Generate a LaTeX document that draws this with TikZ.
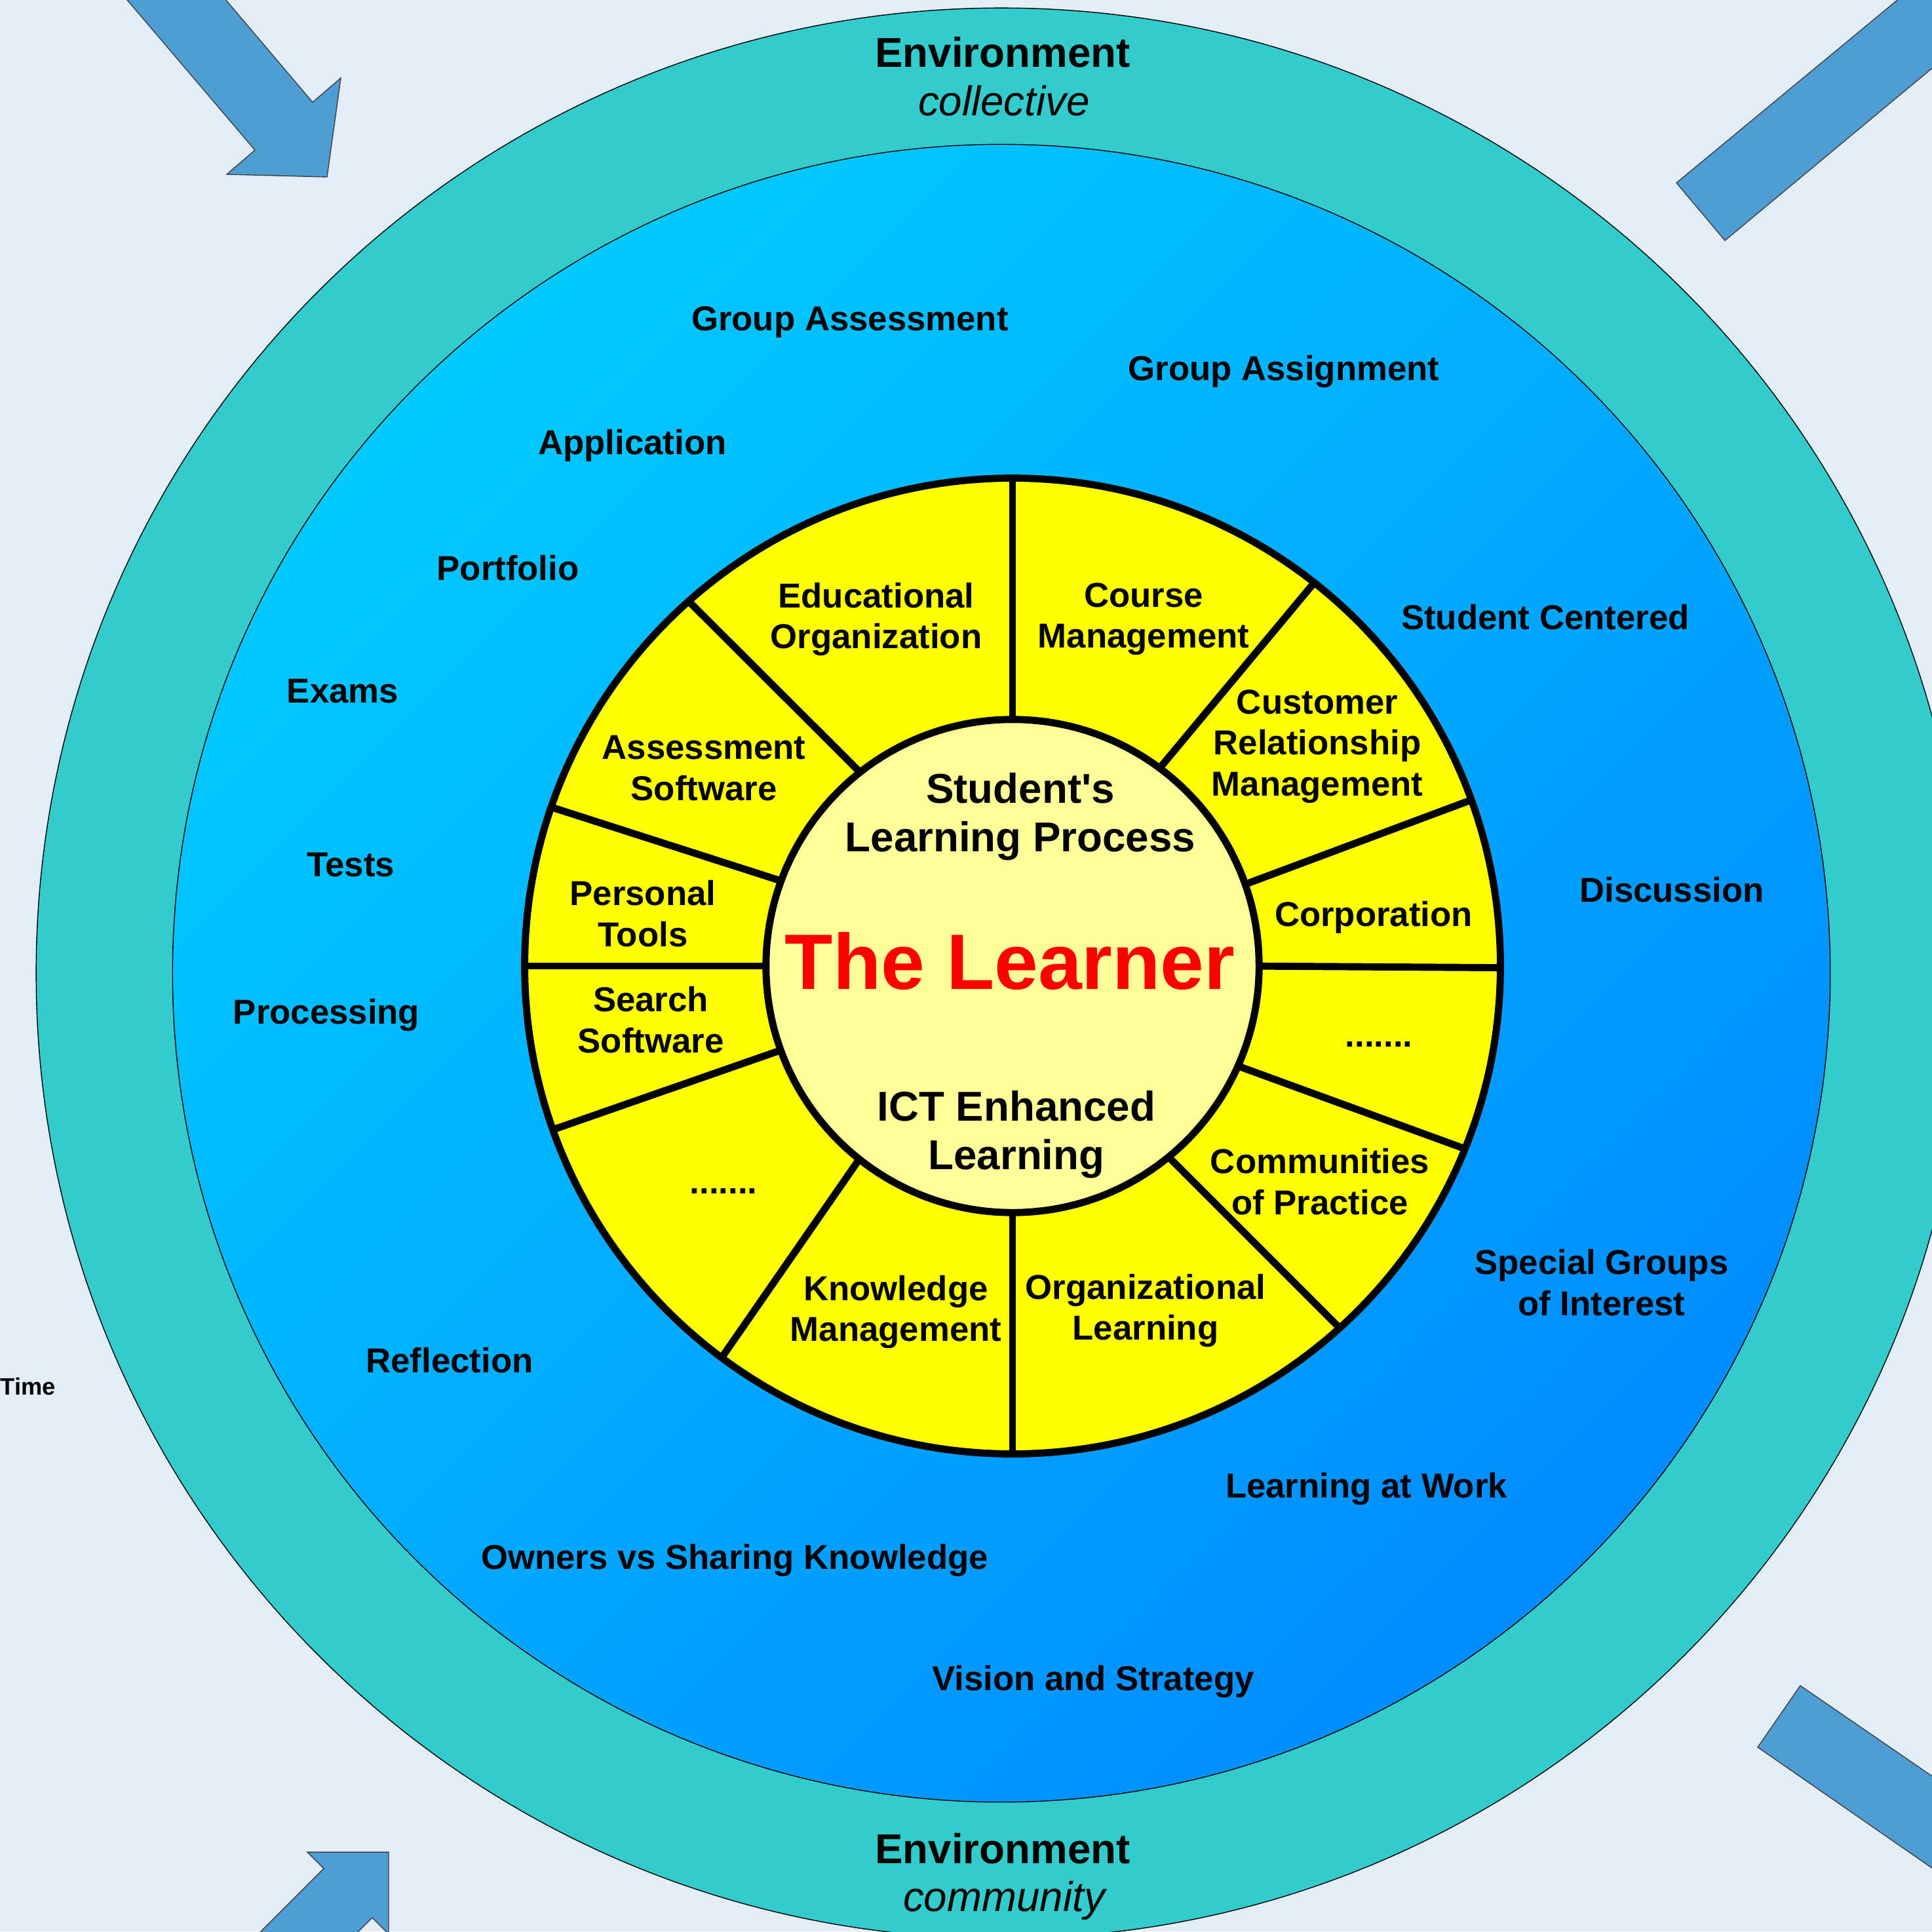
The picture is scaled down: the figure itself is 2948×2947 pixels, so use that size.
\documentclass[tikz,border=0pt]{standalone}
\usepackage{fontspec}
\setmainfont{Liberation Sans}
\usetikzlibrary{calc}
\definecolor{bg}{RGB}{227,237,248}
\definecolor{arrowblue}{RGB}{79,157,213}
\definecolor{tealring}{RGB}{51,204,204}
\definecolor{bluetop}{RGB}{0,202,255}
\definecolor{bluebot}{RGB}{0,140,255}
\definecolor{ringyellow}{RGB}{255,255,0}
\definecolor{paleyellow}{RGB}{255,255,153}
\definecolor{learnerred}{RGB}{255,0,0}
\begin{document}
\begin{tikzpicture}[x=0.01cm,y=-0.01cm,
  lab/.style={font=\fontsize{15}{17.7}\selectfont\bfseries, align=center, inner sep=0pt},
  biglab/.style={font=\fontsize{18.1}{21.2}\selectfont\bfseries, align=center, inner sep=0pt},
  envbold/.style={font=\fontsize{18.1}{21.2}\selectfont\bfseries, inner sep=0pt, anchor=base},
  envital/.style={font=\fontsize{18.1}{21.2}\selectfont\itshape, inner sep=0pt, anchor=base},
  learnerlab/.style={font=\fontsize{34.1}{40}\selectfont\bfseries, text=learnerred, inner sep=0pt},
  timelab/.style={font=\fontsize{10.3}{12}\selectfont\bfseries, inner sep=0pt, anchor=base west},
  bigarrow/.style={fill=arrowblue, draw=black!75, line width=0.4pt},
  thinrim/.style={draw=black, line width=0.4pt},
  spoke/.style={draw=black, line width=3.1pt, line cap=butt},
  thickrim/.style={draw=black, line width=3.1pt}]
\fill[bg] (0,0) rectangle (2948,2947);
\useasboundingbox (0,0) rectangle (2948,2947);
\clip (0,0) rectangle (2948,2947);

% corner arrows
\filldraw[bigarrow] (109,-100) -- (389,229) -- (346,266) -- (499,270) -- (520,119) -- (477,156) -- (260,-100) -- cycle;
\filldraw[bigarrow] (3016,-100) -- (2558,279) -- (2632,367) -- (3060,11) -- (3060,-100) -- cycle;
\filldraw[bigarrow] (593,2826) -- (469,2826) -- (494,2851) -- (300,3045) -- (448,3046) -- (568,2926) -- (593,2951) -- cycle;
\filldraw[bigarrow] (2747,2572) -- (2682,2666) -- (3060,2928) -- (3060,2787) -- cycle;

% rings
\coordinate (O) at (1528,1485);
\coordinate (C) at (1545,1474);
\filldraw[fill=tealring, thinrim] (O) circle[radius=14.72cm];
\shadedraw[top color=bluetop, bottom color=bluebot, shading angle=45, thinrim] (O) circle[radius=12.64cm];
\fill[ringyellow] (C) circle[radius=7.44cm];
\foreach \ai/\ao in {90/90, 53.5/51.8, 19.3/19.9, 0/-0.2, -24.1/-22.0, -51.0/-47.9, -90/-90, 231.4/233.4, 200/199.6, 180/180, 159.7/161.0, 127.9/131.6}{
  \draw[spoke] ($(C)+(\ai:3.6cm)$) -- ($(C)+(\ao:7.44cm)$);
}
\draw[thickrim] (C) circle[radius=7.44cm];
\filldraw[fill=paleyellow, thickrim] (C) circle[radius=3.76cm];

% environment labels
\node[envbold] (envtop) at (1530,102) {Environment};
\node[envital] (envtopsub) at (1532,176) {collective};
\node[envbold] (envbot) at (1530,2843) {Environment};
\node[envital] (envbotsub) at (1532,2916) {community};
\node[timelab] (time) at (0,2128) {Time};

% outer labels
\node[lab] (gassess) at (1297,492) {Group Assessment};
\node[lab] (gassign) at (1959,567) {Group Assignment};
\node[lab] (appl) at (965,680) {Application};
\node[lab] (portf) at (775,867) {Portfolio};
\node[lab] (stcent) at (2358,942) {Student Centered};
\node[lab] (exams) at (523,1055) {Exams};
\node[lab] (tests) at (535,1320) {Tests};
\node[lab] (disc) at (2551,1358) {Discussion};
\node[lab] (proc) at (498,1549) {Processing};
\node[lab] (special) at (2444,1957) {Special Groups\\of Interest};
\node[lab] (refl) at (686,2076) {Reflection};
\node[lab] (law) at (2085,2272) {Learning at Work};
\node[lab] (owners) at (1121,2381) {Owners vs Sharing Knowledge};
\node[lab] (vision) at (1668,2566) {Vision and Strategy};

% sector labels
\node[lab] (edu) at (1337,945) {Educational\\Organization};
\node[lab] (course) at (1745,945) {Course\\Management};
\node[lab] (crm) at (2010,1139) {Customer\\Relationship\\Management};
\node[lab] (corp) at (2096,1400) {Corporation};
\node[lab] (dotsr) at (2104,1594) {.......};
\node[lab] (comm) at (2014,1803) {Communities\\of Practice};
\node[lab] (orgl) at (1748,2000) {Organizational\\Learning};
\node[lab] (km) at (1367,2002) {Knowledge\\Management};
\node[lab] (dotsl) at (1104,1818) {.......};
\node[lab] (search) at (993,1556) {Search\\Software};
\node[lab] (personal) at (981,1394) {Personal\\Tools};
\node[lab] (assess) at (1074,1172) {Assessment\\Software};

% centre labels
\node[biglab] (slp) at (1557,1246) {Student\textquotesingle s\\Learning Process};
\node[learnerlab] (learner) at (1541,1467) {The Learner};
\node[biglab] (ict) at (1551,1731) {ICT Enhanced\\Learning};
\end{tikzpicture}
\end{document}
